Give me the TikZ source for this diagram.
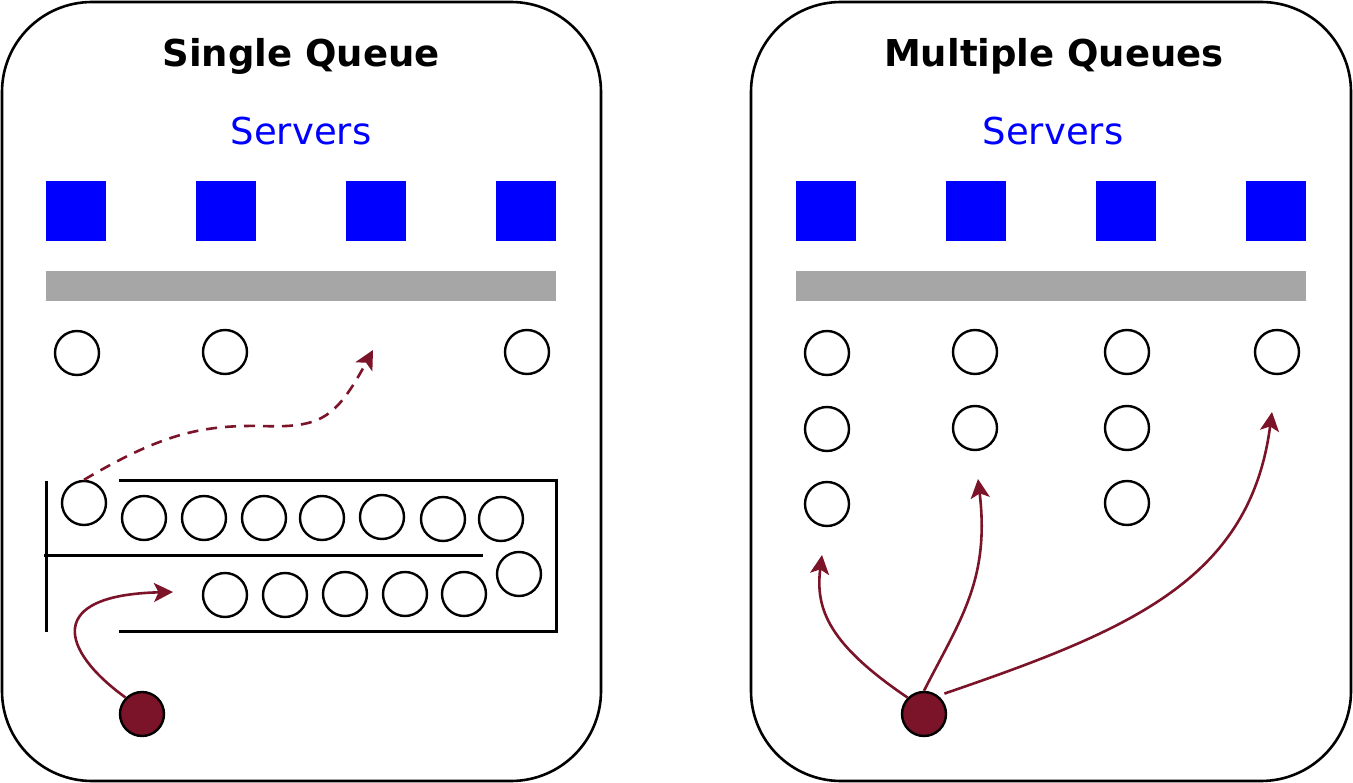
\documentclass[tikz,border=0pt]{standalone}
\usepackage{fontspec}
\setmainfont{DejaVu Sans}
\usetikzlibrary{arrows.meta}
\definecolor{wine}{RGB}{123,19,41}
\definecolor{barg}{RGB}{166,166,166}
\begin{document}
\begin{tikzpicture}[x=1pt,y=-1pt,
  panel/.style={draw=black,line width=2.6pt,rounded corners=90pt},
  title/.style={font=\fontsize{37}{44}\selectfont\bfseries,inner sep=0pt},
  srvlabel/.style={font=\fontsize{37}{44}\selectfont,text=blue,inner sep=0pt},
  server/.style={fill=blue,draw=none,minimum size=60pt,inner sep=0pt},
  bar/.style={fill=barg,draw=none,minimum width=510pt,minimum height=30pt,inner sep=0pt},
  cust/.style={circle,draw=black,line width=2.4pt,minimum size=44pt,inner sep=0pt},
  reddot/.style={circle,draw=black,fill=wine,line width=2.4pt,minimum size=44pt,inner sep=0pt},
  wall/.style={draw=black,line width=3pt},
  flow/.style={draw=wine,line width=2.6pt,-{Stealth[length=19pt,width=19pt,inset=4.5pt]}},
  ]
\useasboundingbox (0,0) rectangle (1353,783);
% panels
\draw[panel] (2,2) rectangle (601,781);
\draw[panel] (751,2) rectangle (1351,781);
% titles
\node[title] (t1) at (301,56) {Single Queue};
\node[title] (t2) at (1054,56) {Multiple Queues};
\node[srvlabel] (s1) at (301,131) {Servers};
\node[srvlabel] (s2) at (1053,131) {Servers};
% servers
\foreach \x/\n in {76/a,226/b,376/c,526/d}{\node[server] (L\n) at (\x,211) {};}
\foreach \x/\n in {826/a,976/b,1126/c,1276/d}{\node[server] (R\n) at (\x,211) {};}
\node[bar] (barL) at (301,286) {};
\node[bar] (barR) at (1051,286) {};
% left: customers at servers
\node[cust] (la) at (77,353) {};
\node[cust] (lb) at (225,352) {};
\node[cust] (ld) at (527,352) {};
% queue walls
\coordinate (w1) at (46,481);
\coordinate (w2) at (46,632);
\coordinate (w3) at (119,481);
\coordinate (w4) at (556,481);
\coordinate (w5) at (556,631);
\coordinate (w6) at (119,631);
\coordinate (w7) at (44,555);
\coordinate (w8) at (483,555);
\draw[wall] (w1) -- (w2);
\draw[wall] (w3) -- (w4) -- (w5) -- (w6);
\draw[wall] (w7) -- (w8);
% queue customers
\node[cust] (q0) at (84,503) {};
\node[cust] (q1) at (144,518) {};
\node[cust] (q2) at (204,518) {};
\node[cust] (q3) at (264,518) {};
\node[cust] (q4) at (322,518) {};
\node[cust] (q5) at (382,517) {};
\node[cust] (q6) at (443,519) {};
\node[cust] (q7) at (501,519) {};
\node[cust] (q8) at (519,574) {};
\node[cust] (q9) at (464,594) {};
\node[cust] (q10) at (405,594) {};
\node[cust] (q11) at (345,594) {};
\node[cust] (q12) at (285,595) {};
\node[cust] (q13) at (225,595) {};
\node[reddot] (dL) at (142,714) {};
\coordinate (tgtC) at (373,350);
\coordinate (tgtQ) at (173,592);
\draw[flow,dashed,dash pattern=on 11pt off 8pt] (q0.north) .. controls (160,435) and (200,425) .. (260,426) .. controls (320,428) and (335,420) .. (tgtC);
\draw[flow] (dL.north west) .. controls (60,650) and (45,595) .. (tgtQ);
% right: customers
\node[cust] (r11) at (827,353) {};
\node[cust] (r12) at (827,429) {};
\node[cust] (r13) at (827,504) {};
\node[cust] (r21) at (975,352) {};
\node[cust] (r22) at (975,428) {};
\node[cust] (r31) at (1127,352) {};
\node[cust] (r32) at (1127,428) {};
\node[cust] (r33) at (1127,503) {};
\node[cust] (r41) at (1277,352) {};
\node[reddot] (dR) at (924,714) {};
\coordinate (ta) at (822,555);
\coordinate (tb) at (978,479);
\coordinate (tc) at (1272,412);
\draw[flow] (dR.north west) .. controls (830,645) and (815,610) .. (ta);
\draw[flow] (dR.north) .. controls (960,620) and (990,580) .. (tb);
\draw[flow] ([xshift=4pt,yshift=4pt]dR.north east) .. controls (1130,630) and (1250,580) .. (tc);
\end{tikzpicture}
\end{document}
